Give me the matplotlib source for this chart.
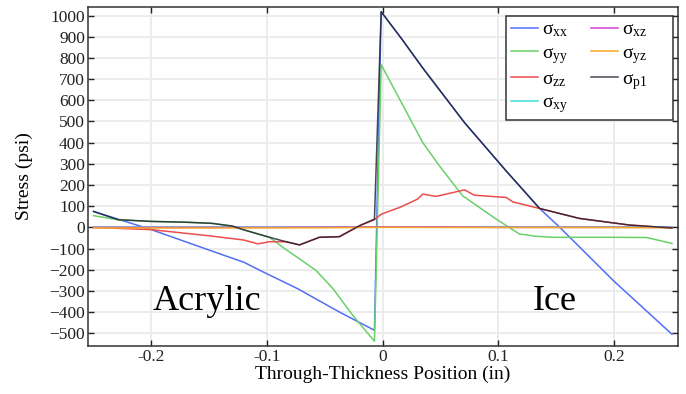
import matplotlib
matplotlib.use("Agg")
import matplotlib.pyplot as plt

plt.rcParams['font.family'] = ['Liberation Serif', 'DejaVu Serif']
plt.rcParams['mathtext.fontset'] = 'custom'
plt.rcParams['mathtext.rm'] = 'Liberation Serif'
plt.rcParams['mathtext.it'] = 'Liberation Serif:italic'

# ---- data ----
xx_x = [-0.25, -0.2, -0.141, -0.12, -0.107, -0.0735, -0.0375, -0.0072, -0.0014, 0.017, 0.0346, 0.0707, 0.1067, 0.1356, 0.153, 0.2, 0.25]
xx_y = [75, -11, -125, -165, -201, -290, -400, -486, 1018, 885, 752, 494, 266, 89, 0, -255, -505]

yy_x = [-0.25, -0.229, -0.2, -0.17, -0.148, -0.13, -0.12, -0.098, -0.085, -0.072, -0.0576, -0.043, -0.026, -0.0072, -0.0014, 0.0346, 0.049, 0.069, 0.098, 0.118, 0.132, 0.147, 0.199, 0.228, 0.25]
yy_y = [55, 36, 28, 24, 19, 6, -12, -47, -100, -149, -204, -290, -415, -538, 768, 400, 290, 149, 39, -31, -42, -47, -47, -48, -76]

zz_x = [-0.25, -0.2, -0.15, -0.12, -0.108, -0.098, -0.0836, -0.072, -0.0548, -0.0375, -0.020, -0.0072, -0.0014, 0.015, 0.030, 0.0346, 0.046, 0.0707, 0.079, 0.1067, 0.1125, 0.1356, 0.170, 0.213, 0.25]
zz_y = [0, -11, -40, -60, -78, -68, -68, -83, -47, -44, 8, 36, 62, 95, 133, 157, 146, 177, 152, 141, 120, 89, 42, 11, -3]

xy_x = [-0.25, -0.1, 0.0, 0.1, 0.25]
xy_y = [0, 0, 0, 0, 0]

xz_x = [-0.25, -0.1, 0.0, 0.05, 0.1, 0.25]
xz_y = [0, 0, 2, 2, 0, 0]

yz_x = [-0.25, -0.15, -0.05, 0.0, 0.1, 0.2, 0.25]
yz_y = [-3, -3, -2, 0, -1, -1, -2]

p1_x = [-0.25, -0.229, -0.2, -0.17, -0.148, -0.13, -0.12, -0.098, -0.0836, -0.072, -0.0548, -0.0375, -0.020, -0.0072, -0.0014, 0.017, 0.0346, 0.0707, 0.1067, 0.1356, 0.170, 0.213, 0.25]
p1_y = [75, 36, 28, 24, 19, 6, -12, -47, -68, -83, -47, -44, 8, 39, 1018, 885, 752, 494, 266, 89, 42, 11, -3]

series = [
    (xx_x, xx_y, '#4f6ff5', 'xx', 1.0, ''),
    (yy_x, yy_y, '#6ad06a', 'yy', 1.0, ''),
    (zz_x, zz_y, '#ee4d4d', 'zz', 1.0, ''),
    (xy_x, xy_y, '#3fdcdc', 'xy', 1.0, ''),
    (xz_x, xz_y, '#d33fd3', 'xz', 1.0, '     '),
    (yz_x, yz_y, '#f5a623', 'yz', 1.0, '     '),
    (p1_x, p1_y, '#1c1c2c', 'p1', 0.8, '     '),
]

xticks = [-0.2, -0.1, 0, 0.1, 0.2]
xtick_labels = ['-0.2', '-0.1', '0', '0.1', '0.2']
yticks = list(range(-500, 1001, 100))

fig = plt.figure(figsize=(6.86, 3.94), dpi=100)
ax = fig.add_axes([0.128, 0.122, 0.860, 0.860])

for xs, ys, col, sub, a, pad in series:
    ax.plot(xs, ys, color=col, lw=1.1, alpha=a, label='σ$_{\\mathrm{%s}}$%s' % (sub, pad))

ax.set_xlim(-0.255, 0.255)
ax.set_ylim(-560, 1040)
ax.set_xticks(xticks)
ax.set_xticklabels(xtick_labels)
ax.set_yticks(yticks)
ax.grid(True, color='#ebebeb', lw=1.3)
ax.set_axisbelow(True)
ax.tick_params(direction='in', top=True, right=True, length=4, width=1, labelsize=12.5, colors='#222222', pad=2)
for s in ax.spines.values():
    s.set_color('#333333')
    s.set_linewidth(1.1)

ax.set_xlabel('Through-Thickness Position (in)', fontsize=14, labelpad=1)
ax.set_ylabel('Stress (psi)', fontsize=14, labelpad=12)

ax.text(-0.199, -392, 'Acrylic', fontsize=26, ha='left', va='baseline')
ax.text(0.130, -392, 'Ice', fontsize=26, ha='left', va='baseline')

leg = ax.legend(ncol=2, loc='upper right', bbox_to_anchor=(0.9915, 0.9735), borderaxespad=0,
                fontsize=14, handlelength=1.4, handletextpad=0.2,
                labelspacing=0.26, columnspacing=1.15, borderpad=0.25,
                fancybox=False, framealpha=1, edgecolor='#333333')
leg.get_frame().set_linewidth(1.1)

fig.savefig('out.png', dpi=100)
